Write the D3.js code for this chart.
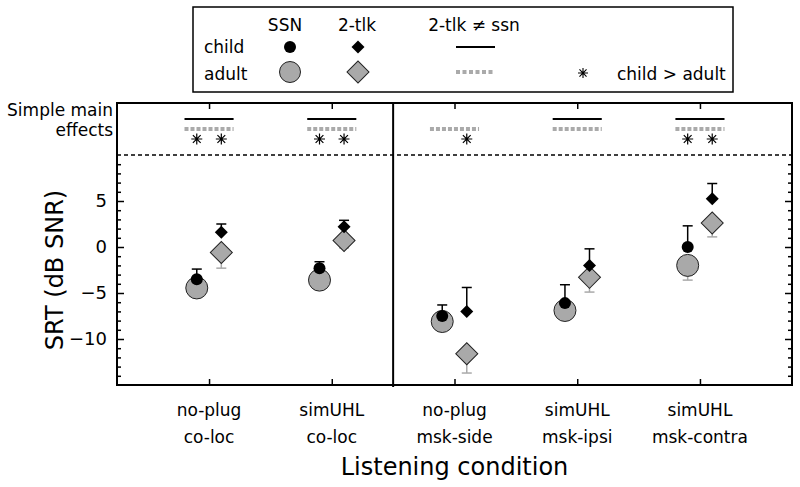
<!DOCTYPE html>
<html>
<head>
<meta charset="utf-8">
<script src="https://cdn.jsdelivr.net/npm/d3@7"></script>
<style>
  body { margin: 0; background: #fff; }
  text { font-family: "DejaVu Sans", sans-serif; fill: #000; }
</style>
</head>
<body>
<svg id="chart" width="800" height="487"></svg>
<script>
// listening conditions (two-line labels)
var categories = [["no-plug", "co-loc"], ["simUHL", "co-loc"], ["no-plug", "msk-side"], ["simUHL", "msk-ipsi"], ["simUHL", "msk-contra"]];

// SRT means and error bar ends (dB SNR)
var childSSN    = [-3.5, -2.3, -7.5, -6.1, 0.0];
var childSSNHi  = [-2.4, -1.6, -6.3, -4.1, 2.3];
var adultSSN    = [-4.45, -3.6, -8.1, -6.9, -2.0];
var adultSSNLo  = [-5.3, -4.4, -8.9, -7.7, -3.6];
var child2tlk   = [1.6, 2.2, -7.0, -2.0, 5.25];
var child2tlkHi = [2.5, 2.9, -4.4, -0.2, 6.9];
var adult2tlk   = [-0.6, 0.7, -11.6, -3.3, 2.6];
var adult2tlkLo = [-2.3, -0.1, -13.7, -4.9, 1.1];

// simple main effects
var childDiff = [1, 1, 0, 1, 1];   // 2-tlk != ssn, child
var adultDiff = [1, 1, 1, 1, 1];   // 2-tlk != ssn, adult
var starSSN   = [1, 1, 0, 0, 1];   // child > adult, SSN
var star2tlk  = [1, 1, 1, 0, 1];   // child > adult, 2-tlk

var yMajor = [-10, -5, 0, 5];
var yMinor = d3.range(-14, 10).filter(function (v) { return v % 5 != 0; });

var GRAY = "#a9a9a9", LGRAY = "#aaaaaa";

var svg = d3.select("#chart");
var frame = { left: 117, right: 792, top: 103, bottom: 385 };

var x = d3.scaleLinear().domain([0.25, 5.75]).range([frame.left, frame.right]);
var y = d3.scaleLinear().domain([-15, 10]).range([frame.bottom, 155]);
var off = 0.1, half = 0.2;
var idx = d3.range(categories.length);

function starPath(r) {
  var p = "";
  [0, 45, 90, 135].forEach(function (a) {
    var t = a * Math.PI / 180, dx = r * Math.cos(t), dy = r * Math.sin(t);
    p += "M" + (-dx) + "," + (-dy) + "L" + dx + "," + dy;
  });
  return p;
}
var diamond = function (h) { return d3.symbol(d3.symbolSquare, 2 * h * h)(); };

// ---- axes ----
function styleAxis(g) {
  g.select(".domain").remove();
  g.selectAll("line").attr("stroke-width", 1.5);
  g.attr("font-family", "DejaVu Sans").attr("font-size", 18);
}

svg.append("g").attr("transform", "translate(" + frame.left + ",0)")
  .call(d3.axisLeft(y).tickValues(yMajor).tickSizeInner(-7).tickSizeOuter(0).tickPadding(10))
  .call(styleAxis);
svg.append("g").attr("transform", "translate(" + frame.left + ",0)")
  .call(d3.axisLeft(y).tickValues(yMinor).tickSizeInner(-4).tickSizeOuter(0).tickFormat(""))
  .call(styleAxis);
svg.append("g").attr("transform", "translate(" + frame.right + ",0)")
  .call(d3.axisRight(y).tickValues(yMajor).tickSizeInner(-7).tickSizeOuter(0).tickFormat(""))
  .call(styleAxis);
svg.append("g").attr("transform", "translate(" + frame.right + ",0)")
  .call(d3.axisRight(y).tickValues(yMinor).tickSizeInner(-4).tickSizeOuter(0).tickFormat(""))
  .call(styleAxis);
svg.append("g").attr("transform", "translate(0," + frame.bottom + ")")
  .call(d3.axisBottom(x).tickValues(d3.range(1, 6)).tickSizeInner(-6).tickSizeOuter(0).tickFormat(""))
  .call(styleAxis);
svg.append("g").attr("transform", "translate(0," + frame.top + ")")
  .call(d3.axisTop(x).tickValues(d3.range(1, 6)).tickSizeInner(-6).tickSizeOuter(0).tickFormat(""))
  .call(styleAxis);

// frame, divider, dashed separator
svg.append("rect")
  .attr("x", frame.left).attr("y", frame.top)
  .attr("width", frame.right - frame.left).attr("height", frame.bottom - frame.top)
  .attr("fill", "none").attr("stroke", "#000").attr("stroke-width", 2);
svg.append("line")
  .attr("x1", x(2.5)).attr("x2", x(2.5)).attr("y1", frame.top).attr("y2", frame.bottom + 2)
  .attr("stroke", "#000").attr("stroke-width", 2);
svg.append("line")
  .attr("x1", frame.left).attr("x2", frame.right).attr("y1", y(10)).attr("y2", y(10))
  .attr("stroke", "#000").attr("stroke-width", 1.5).attr("stroke-dasharray", "4,3");

// category labels
var cl = svg.append("g").selectAll("text").data(categories).join("text")
  .attr("x", function (d, i) { return x(i + 1); })
  .attr("y", 416)
  .attr("text-anchor", "middle")
  .attr("font-size", 17);
cl.append("tspan").text(function (d) { return d[0]; });
cl.append("tspan").attr("x", function (d, i) { return x(i + 1); }).attr("dy", 27).text(function (d) { return d[1]; });

svg.append("text")
  .attr("x", (frame.left + frame.right) / 2).attr("y", 475)
  .attr("text-anchor", "middle").attr("font-size", 24)
  .text("Listening condition");
svg.append("text")
  .attr("transform", "translate(63," + ((frame.bottom + 155) / 2) + ") rotate(-90)")
  .attr("text-anchor", "middle").attr("font-size", 24)
  .text("SRT (dB SNR)");

// simple main effects
svg.append("text").attr("text-anchor", "end").attr("font-size", 17)
  .attr("x", 113).attr("y", 116).text("Simple main");
svg.append("text").attr("text-anchor", "end").attr("font-size", 17)
  .attr("x", 113).attr("y", 136).text("effects");

svg.append("g").selectAll("line").data(idx.filter(function (i) { return childDiff[i]; })).join("line")
  .attr("x1", function (i) { return x(i + 1 - half); })
  .attr("x2", function (i) { return x(i + 1 + half); })
  .attr("y1", 119).attr("y2", 119)
  .attr("stroke", "#000").attr("stroke-width", 2);
svg.append("g").selectAll("line").data(idx.filter(function (i) { return adultDiff[i]; })).join("line")
  .attr("x1", function (i) { return x(i + 1 - half); })
  .attr("x2", function (i) { return x(i + 1 + half); })
  .attr("y1", 129).attr("y2", 129)
  .attr("stroke", LGRAY).attr("stroke-width", 4).attr("stroke-dasharray", "4,2");
var stars = [];
idx.forEach(function (i) {
  if (starSSN[i]) stars.push(i + 1 - off);
  if (star2tlk[i]) stars.push(i + 1 + off);
});
svg.append("g").selectAll("path").data(stars).join("path")
  .attr("transform", function (d) { return "translate(" + x(d) + ",139)"; })
  .attr("d", starPath(5.5))
  .attr("stroke", "#000").attr("stroke-width", 1.2).attr("fill", "none");

// ---- data marks ----
function errBars(vals, ends, dx, color) {
  var g = svg.append("g").attr("stroke", color).attr("stroke-width", 1.5);
  g.selectAll(".v").data(idx).join("line").attr("class", "v")
    .attr("x1", function (i) { return x(i + 1 + dx); })
    .attr("x2", function (i) { return x(i + 1 + dx); })
    .attr("y1", function (i) { return y(vals[i]); })
    .attr("y2", function (i) { return y(ends[i]); });
  g.selectAll(".c").data(idx).join("line").attr("class", "c")
    .attr("x1", function (i) { return x(i + 1 + dx) - 5; })
    .attr("x2", function (i) { return x(i + 1 + dx) + 5; })
    .attr("y1", function (i) { return y(ends[i]); })
    .attr("y2", function (i) { return y(ends[i]); });
}

errBars(adultSSN, adultSSNLo, -off, LGRAY);
errBars(adult2tlk, adult2tlkLo, off, LGRAY);

svg.append("g").selectAll("circle").data(idx).join("circle")
  .attr("cx", function (i) { return x(i + 1 - off); })
  .attr("cy", function (i) { return y(adultSSN[i]); })
  .attr("r", 11).attr("fill", GRAY).attr("stroke", "#222").attr("stroke-width", 1);
svg.append("g").selectAll("path").data(idx).join("path")
  .attr("transform", function (i) { return "translate(" + x(i + 1 + off) + "," + y(adult2tlk[i]) + ") rotate(45)"; })
  .attr("d", diamond(11)).attr("fill", GRAY).attr("stroke", "#222").attr("stroke-width", 1);

errBars(childSSN, childSSNHi, -off, "#000");
errBars(child2tlk, child2tlkHi, off, "#000");

svg.append("g").selectAll("circle").data(idx).join("circle")
  .attr("cx", function (i) { return x(i + 1 - off); })
  .attr("cy", function (i) { return y(childSSN[i]); })
  .attr("r", 6).attr("fill", "#000");
svg.append("g").selectAll("path").data(idx).join("path")
  .attr("transform", function (i) { return "translate(" + x(i + 1 + off) + "," + y(child2tlk[i]) + ") rotate(45)"; })
  .attr("d", diamond(6.5)).attr("fill", "#000");

// ---- legend ----
var lg = svg.append("g");
lg.append("rect").attr("x", 193).attr("y", 7).attr("width", 540).attr("height", 85)
  .attr("fill", "#fff").attr("stroke", "#000").attr("stroke-width", 1.5);
[["SSN", 285], ["2-tlk", 357], ["2-tlk \u2260 ssn", 474]].forEach(function (h) {
  lg.append("text").attr("x", h[1]).attr("y", 31).attr("text-anchor", "middle").attr("font-size", 17).text(h[0]);
});
lg.append("text").attr("x", 204).attr("y", 53).attr("font-size", 17).text("child");
lg.append("text").attr("x", 204).attr("y", 80).attr("font-size", 17).text("adult");
lg.append("circle").attr("cx", 290).attr("cy", 47).attr("r", 6).attr("fill", "#000");
lg.append("circle").attr("cx", 290).attr("cy", 72).attr("r", 10.5).attr("fill", GRAY).attr("stroke", "#222");
lg.append("path").attr("transform", "translate(358,47) rotate(45)").attr("d", diamond(6.5)).attr("fill", "#000");
lg.append("path").attr("transform", "translate(358,72) rotate(45)").attr("d", diamond(11)).attr("fill", GRAY).attr("stroke", "#222");
lg.append("line").attr("x1", 456).attr("x2", 495).attr("y1", 47).attr("y2", 47).attr("stroke", "#000").attr("stroke-width", 2);
lg.append("line").attr("x1", 456).attr("x2", 495).attr("y1", 72).attr("y2", 72)
  .attr("stroke", LGRAY).attr("stroke-width", 4).attr("stroke-dasharray", "4,2.5");
lg.append("path").attr("transform", "translate(583,73)").attr("d", starPath(5)).attr("stroke", "#000").attr("stroke-width", 1.1);
lg.append("text").attr("x", 617).attr("y", 80).attr("font-size", 17).text("child > adult");
</script>
</body>
</html>
